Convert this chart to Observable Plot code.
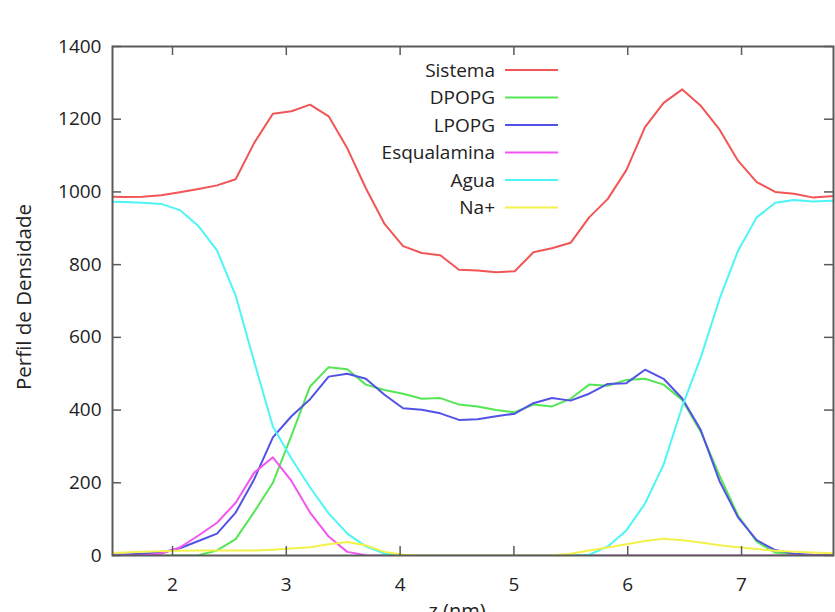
<!DOCTYPE html>
<html>
<head>
<meta charset="utf-8">
<script src="https://cdn.jsdelivr.net/npm/d3@7"></script>
<script src="https://cdn.jsdelivr.net/npm/@observablehq/plot@0.6"></script>
<style>
  html, body { margin: 0; padding: 0; background: #fff; overflow: hidden; }
  #chart svg { display: block; font-family: "Open Sans", "Liberation Sans", sans-serif; }
</style>
</head>
<body>
<div id="chart"></div>
<script>
// z positions (nm)
const z = [1.410, 1.574, 1.737, 1.901, 2.064, 2.228, 2.391, 2.555, 2.718, 2.882,
           3.045, 3.209, 3.372, 3.536, 3.699, 3.863, 4.026, 4.190, 4.353, 4.517,
           4.680, 4.844, 5.007, 5.171, 5.334, 5.498, 5.661, 5.825, 5.988, 6.152,
           6.315, 6.479, 6.642, 6.806, 6.969, 7.133, 7.296, 7.460, 7.623, 7.787, 7.950];

const seriesNames = ["Sistema", "DPOPG", "LPOPG", "Esqualamina", "Agua", "Na+"];
const seriesColors = ["#f25555", "#55e655", "#5252e6", "#f355f3", "#4ef5f5", "#f2f24a"];

const sistema = [987, 986, 987, 991, 999, 1008, 1018, 1035, 1135, 1215,
                 1222, 1240, 1208, 1120, 1010, 912, 851, 832, 826, 786,
                 784, 779, 782, 834, 845, 860, 930, 981, 1060, 1178,
                 1245, 1282, 1237, 1172, 1086, 1027, 1000, 995, 985, 988, 988];
const dpopg = [0, 0, 0, 0, 0, 1, 14, 45, 120, 200,
               330, 465, 518, 512, 470, 455, 445, 431, 433, 415,
               410, 400, 394, 415, 410, 431, 470, 467, 483, 486,
               470, 428, 340, 220, 110, 38, 8, 2, 0, 0, 0];
const lpopg = [2, 3, 5, 8, 20, 40, 60, 118, 210, 325,
               383, 430, 492, 500, 486, 442, 405, 401, 391, 373,
               375, 383, 390, 419, 433, 426, 445, 472, 474, 511,
               486, 432, 345, 205, 105, 42, 15, 5, 2, 1, 0];
const esqualamina = [0, 0, 1, 5, 22, 55, 90, 145, 228, 270,
                     205, 118, 52, 10, 1, 0, 0, 0, 0, 0,
                     0, 0, 0, 0, 0, 0, 0, 0, 0, 0,
                     0, 0, 0, 0, 0, 0, 0, 0, 0, 0, 0];
const agua = [974, 972, 970, 967, 950, 906, 839, 715, 533, 355,
              267, 187, 116, 60, 25, 5, 0, 0, 0, 0,
              0, 0, 0, 0, 0, 0, 2, 25, 69, 143,
              250, 410, 545, 705, 838, 930, 970, 978, 974, 976, 976];
const naPlus = [6, 8, 10, 12, 13, 14, 14, 14, 14, 16,
                19, 23, 31, 37, 28, 10, 2, 0, 0, 0,
                0, 0, 0, 0, 1, 5, 14, 22, 31, 40,
                46, 42, 36, 28, 23, 18, 13, 10, 8, 6, 6];

const xTicks = [2, 3, 4, 5, 6, 7];
const yTicks = [0, 200, 400, 600, 800, 1000, 1200, 1400];
const xLabel = "z (nm)";
const yLabel = "Perfil de Densidade";

const allSeries = [sistema, dpopg, lpopg, esqualamina, agua, naPlus];

const W = 835, H = 612;
const mL = 112, mR = 2, mT = 46, mB = 57;
const plotW = W - mL - mR, plotH = H - mT - mB;
const tick = 9;

const marks = [];
allSeries.forEach((vals, i) => {
  const rows = z.map((zz, j) => ({z: zz, v: vals[j]}));
  marks.push(Plot.line(rows, {x: "z", y: "v", stroke: seriesColors[i], strokeWidth: 2, clip: true}));
});

const frameColor = "#5a5a5a";
const svg = Plot.plot({
  width: W,
  height: H,
  marginLeft: mL,
  marginRight: mR,
  marginTop: mT,
  marginBottom: mB,
  style: {fontFamily: "'Open Sans', 'Liberation Sans', sans-serif", fontSize: "19px", color: "#222", background: "#fff", overflow: "visible"},
  x: {domain: [1.4728, 7.808]},
  y: {domain: [0, 1400]},
  marks: [
    ...marks,
    // inward ticks on all four sides
    Plot.ruleX(xTicks, {x: d => d, insetTop: plotH - tick, stroke: frameColor, strokeWidth: 1.5}),
    Plot.ruleX(xTicks, {x: d => d, insetBottom: plotH - tick, stroke: frameColor, strokeWidth: 1.5}),
    Plot.ruleY(yTicks, {y: d => d, insetRight: plotW - tick, stroke: frameColor, strokeWidth: 1.5}),
    Plot.ruleY(yTicks, {y: d => d, insetLeft: plotW - tick, stroke: frameColor, strokeWidth: 1.5}),
    Plot.frame({stroke: frameColor, strokeWidth: 2}),
    Plot.axisX(xTicks, {tickSize: 0, tickPadding: 22, label: null, tickFormat: d => String(d), fontSize: 19, fill: "#222"}),
    Plot.axisY(yTicks, {tickSize: 0, tickPadding: 11, label: null, tickFormat: d => String(d), fontSize: 19, fill: "#222"})
  ]
});

const s = d3.select(svg);
// legend
const lg = s.append("g");
seriesNames.forEach((name, i) => {
  const y = 70 + 27.5 * i;
  lg.append("text").attr("x", 495).attr("y", y).attr("dy", "0.35em")
    .attr("text-anchor", "end").attr("fill", "#222").style("font-size", "19px").text(name);
  lg.append("line").attr("x1", 505).attr("x2", 558).attr("y1", y).attr("y2", y)
    .attr("stroke", seriesColors[i]).attr("stroke-width", 2);
});
// axis labels
s.append("text").attr("transform", "translate(31,297) rotate(-90)")
  .attr("text-anchor", "middle").attr("fill", "#222").style("font-size", "20.5px").text(yLabel);
s.append("text").attr("x", 457).attr("y", 618)
  .attr("text-anchor", "middle").attr("fill", "#222").style("font-size", "20px").text(xLabel);

document.getElementById("chart").appendChild(svg);
</script>
</body>
</html>
